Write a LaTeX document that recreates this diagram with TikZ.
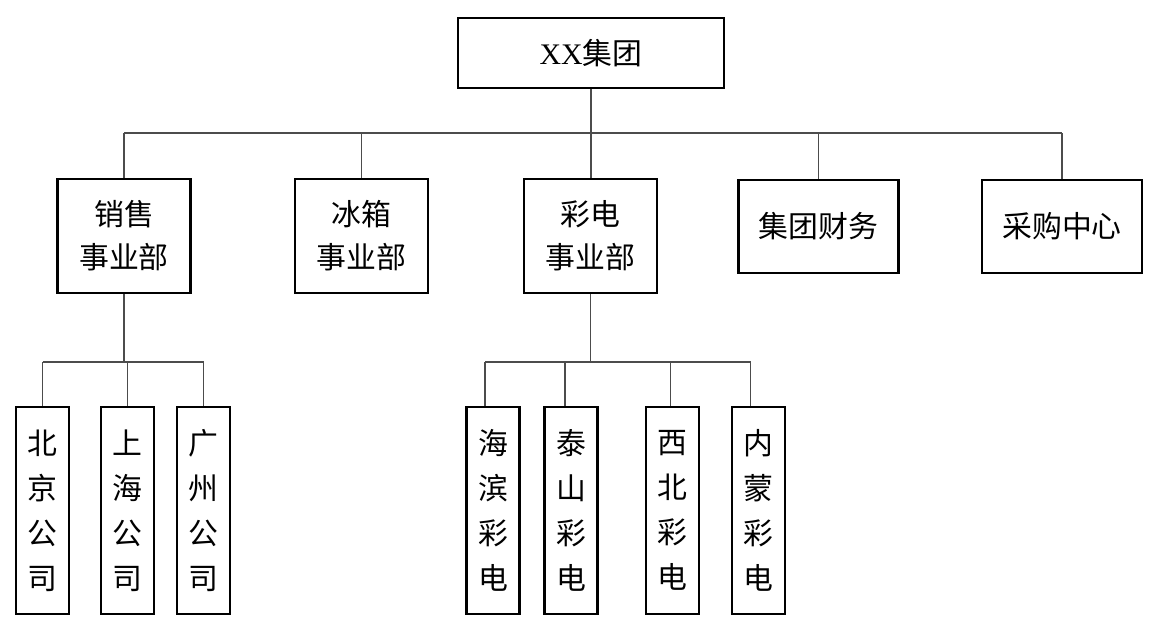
\documentclass[tikz,border=0pt]{standalone}
\usepackage{fontspec}
\setmainfont{Liberation Serif}
\newfontfamily\cjk{Noto Sans CJK SC}
\usetikzlibrary{calc}
\usetikzlibrary{positioning}

\tikzset{
  unit/.style={draw=black, line width=1.5pt, inner sep=0pt, align=center,
    font=\fontsize{17}{24.5}\selectfont\cjk},
  wide/.style={unit, minimum width=2.66cm, minimum height=2.28cm},
  flat/.style={unit, minimum width=3.2cm, minimum height=1.86cm},
  tall/.style={unit, minimum width=1.06cm, minimum height=4.14cm,
    font=\fontsize{17}{25.6}\selectfont\cjk},
  link/.style={draw=black!70, line width=0.6pt},
}

\begin{document}
\begin{tikzpicture}[x=0.02cm, y=-0.02cm]
\useasboundingbox (0,0) rectangle (1168,635);
\coordinate (bus) at (0,133);
\coordinate (sbus) at (0,362);
% top
\node[unit, minimum width=5.32cm, minimum height=1.4cm] (group) at (591,53) {{\rmfamily XX}集团};
% divisions
\node[wide] (sales) at (124,236) {销售\\事业部};
\node[wide] (fridge) at (361.5,236) {冰箱\\事业部};
\node[wide] (tv) at (590.5,236) {彩电\\事业部};
\node[flat] (finance) at (818.5,226.5) {集团财务};
\node[flat] (purchase) at (1062,226.5) {采购中心};
% companies
\foreach \n/\x/\t in {bj/42.5/北\\京\\公\\司, sh/127.5/上\\海\\公\\司, gz/203.5/广\\州\\公\\司,
  hb/493/海\\滨\\彩\\电, ts/571/泰\\山\\彩\\电, xb/672.5/西\\北\\彩\\电, nm/758.5/内\\蒙\\彩\\电}
  \node[tall] (\n) at (\x,510.5) {\t};
% connectors
\draw[link] (group.south) -- (group.south |- tv.north);
\draw[link] (sales.north |- bus) -- (purchase.north |- bus);
\foreach \n in {sales,fridge,finance,purchase}
  \draw[link] (\n.north) -- (\n.north |- bus);
\draw[link] (sales.south) -- (sales.south |- sbus);
\draw[link] (bj.north |- sbus) -- (gz.north |- sbus);
\foreach \n in {bj,sh,gz}
  \draw[link] (\n.north) -- (\n.north |- sbus);
\draw[link] (tv.south) -- (tv.south |- sbus);
\foreach \n/\dx in {hb/-8,ts/-6,xb/-2,nm/-8}
  \draw[link] ($(\n.north)+(\dx,0)$) coordinate (d\n) -- (d\n |- sbus);
\draw[link] (dhb |- sbus) -- (dnm |- sbus);
\end{tikzpicture}
\end{document}
